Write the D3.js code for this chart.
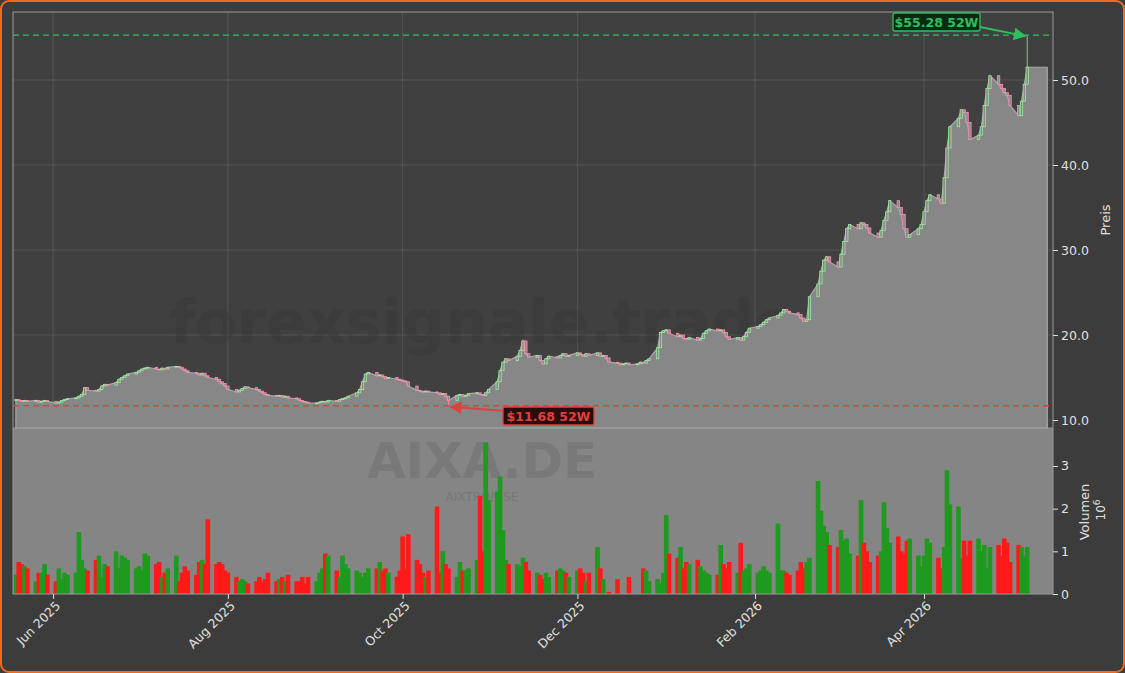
<!DOCTYPE html>
<html><head><meta charset="utf-8">
<script src="https://cdn.jsdelivr.net/npm/d3@7"></script>
<style>body{margin:0;background:#3c3c3c;}svg{display:block;font-family:"DejaVu Sans",sans-serif;}</style>
</head><body><svg id="c" width="1125" height="673"></svg>
<script>
// closing prices per month (trading days)
const closesMay25 = [12.4,12.3,12.2,12.3,12.2,12.3,12.1,12.2,12.3,12.2];
const closesJun25 = [12.0,12.1,12.3,12.4,12.5,12.6,12.8,13.0,13.8,13.5,13.4,13.6,14.0,14.2,14.1,14.4,14.8,15.0,15.2,15.4,15.6];
const closesJul25 = [15.8,16.0,16.1,16.2,16.0,15.9,16.1,16.0,16.2,16.3,16.2,16.0,15.8,15.6,15.5,15.3,15.5,15.2,15.0,14.8,14.5,14.3,14.0];
const closesAug25 = [13.6,13.3,13.5,13.7,13.9,13.8,13.6,13.4,13.2,13.0,12.9,12.8,12.9,12.7,12.8,12.6,12.5,12.3,12.2,12.1,12.0];
const closesSep25 = [12.0,12.1,12.2,12.1,12.3,12.2,12.4,12.5,12.6,12.8,13.2,13.6,14.5,15.4,15.6,15.2,15.3,15.1,14.9,15.0,14.8,14.7];
const closesOct25 = [14.6,14.5,14.0,13.5,13.4,13.3,13.4,13.3,13.2,13.0,13.1,12.8,12.3,12.9,13.0,12.8,12.9,13.1,13.2,13.0,12.9,13.2,13.6];
const closesNov25 = [14.5,15.8,16.8,17.2,17.0,17.5,18.2,19.3,17.8,17.4,17.6,17.0,16.6,17.2,17.5,17.3,17.6,17.8,17.5,17.6];
const closesDec25 = [17.9,17.7,17.5,17.8,17.6,17.9,17.5,17.6,17.3,16.8,16.7,16.5,16.6,16.7,16.5,16.6,16.8,16.7,17.0,17.2,18.5,20.3,20.5];
const closesJan26 = [20.6,20.2,19.8,20.0,19.6,19.5,19.7,19.4,19.6,20.2,20.5,20.7,20.5,20.6,20.3,19.8,19.5,19.7,19.4,19.8,20.3,20.8];
const closesFeb26 = [21.0,21.2,21.5,21.8,22.0,22.3,22.6,23.0,22.8,22.6,22.4,22.0,21.6,21.8,24.5,26.0,27.5,28.8,29.2,28.6];
const closesMar26 = [28.0,29.5,31.0,32.5,33.0,32.5,33.2,33.0,32.6,32.0,31.5,32.3,33.5,34.5,35.8,35.0,34.2,32.5,31.5,31.8,32.5,33.0];
const closesApr26 = [34.5,35.8,36.5,36.0,35.5,38.5,42.0,44.5,45.5,46.5,46.2,45.0,43.0,43.5,44.5,47.0,49.0,50.5,49.5,49.0,48.5,48.2];
const closesMay26 = [47.0,45.8,47.5,49.5,51.5];

// volume in millions
const volMay25 = [.45,.75,.7,.65,.6,.3,.5,.5,.7,.45];
const volJun25 = [.3,.6,.35,.5,.45,.5,1.45,.8,.6,.55,.8,.9,.4,.7,.65,1.0,.6,.9,.85,.8,.6];
const volJul25 = [.65,.55,.95,.9,.7,.75,.4,.5,.6,.9,.3,.5,.65,.55,.45,.75,.8,.7,1.75,.7,.75,.7,.55];
const volAug25 = [.5,.4,.3,.35,.3,.25,.3,.4,.3,.35,.5,.3,.35,.4,.3,.45,.3,.3,.4,.25,.4];
const volSep25 = [.3,.5,.6,.95,.9,.55,.4,.9,.7,.6,.55,.5,.4,.5,.6,.6,.75,.55,.6,.5,.4,.55];
const volOct25 = [1.35,.6,1.4,.8,.7,.5,.4,.55,2.05,.5,1.0,.7,.6,.4,.75,.55,.55,.6,.8,2.3,1.0,3.55,2.2];
const volNov25 = [2.4,2.75,1.5,.8,.7,.7,.65,.85,.75,.55,.5,.45,.35,.5,.4,.55,.6,.55,.5,.4];
const volDec25 = [.55,.6,.5,.3,.5,1.1,.6,.35,0,.05,.35,0,0,0,.4,0,0,.6,.55,.3,.35,.25,.5];
const volJan26 = [1.85,.95,.85,1.1,.6,.75,.7,.8,.65,.55,.5,.45,.45,1.15,.7,.6,.75,.5,1.2,.55,.6,.7];
const volFeb26 = [.5,.55,.65,.55,.5,1.65,.55,.55,.5,.45,.55,.75,.6,.75,.85,2.65,1.95,1.6,1.45,1.15];
const volMar26 = [1.1,1.5,1.25,1.3,.95,.9,2.2,1.2,1.0,.75,.9,1.0,2.15,1.55,1.2,1.35,1.0,.95,1.25,1.3,.9,.65];
const volApr26 = [.9,1.3,1.2,.85,.6,1.1,2.9,2.1,2.05,.85,1.25,.9,1.25,1.3,1.0,1.15,.6,1.1,1.15,.9,1.3,1.2];
const volMay26 = [.75,1.15,1.1,.9,1.1];

const priceTicks = [10, 20, 30, 40, 50];
const volTicks = [0, 1, 2, 3];
const low52 = { value: 11.68, date: "2025-10-17" };
const high52 = { value: 55.28, date: "2026-05-07" };
const dateTicks = ["2025-06-01","2025-08-01","2025-10-01","2025-12-01","2026-02-01","2026-04-01"];

const closes = [].concat(closesMay25,closesJun25,closesJul25,closesAug25,closesSep25,closesOct25,closesNov25,closesDec25,closesJan26,closesFeb26,closesMar26,closesApr26,closesMay26);
const vols = [].concat(volMay25,volJun25,volJul25,volAug25,volSep25,volOct25,volNov25,volDec25,volJan26,volFeb26,volMar26,volApr26,volMay26);

const parse = d3.timeParse("%Y-%m-%d");
const days = d3.timeDay.range(parse("2025-05-19"), parse("2026-05-08")).filter(d => d.getDay() % 6 !== 0);
const n = Math.min(closes.length, days.length);
const data = d3.range(n).map(i => ({
  date: days[i], close: closes[i], open: i ? closes[i-1] : closes[i], vol: vols[i] || 0
}));
data.forEach(d => { d.high = Math.max(d.open, d.close); d.low = Math.min(d.open, d.close); });
const hi = data.find(d => +d.date === +parse(high52.date)); if (hi) hi.high = high52.value;
const lo = data.find(d => +d.date === +parse(low52.date)); if (lo) lo.low = low52.value;

const svg = d3.select("#c");
svg.append("rect").attr("x",1).attr("y",1).attr("width",1123).attr("height",671).attr("rx",8)
  .attr("fill","#3c3c3c").attr("stroke","#f26a1b").attr("stroke-width",2);

const L = 13, R = 1053, PT = 12, PB = 428, VB = 594;
const x = d3.scaleTime().domain([parse("2025-05-18"), parse("2026-05-16")]).range([L, R]);
const y = d3.scaleLinear().domain([9.06, 58]).range([PB, PT]);
const yv = d3.scaleLinear().domain([0, 3.89]).range([VB, PB]);

svg.append("rect").attr("x",L).attr("y",PT).attr("width",R-L).attr("height",PB-PT).attr("fill","#404040");
svg.append("rect").attr("x",L).attr("y",PB).attr("width",R-L).attr("height",VB-PB).attr("fill","#858585");

// grid
const g = svg.append("g").attr("stroke","#5a5a5a").attr("stroke-width",0.8);
dateTicks.forEach(t => g.append("line").attr("x1",x(parse(t))).attr("x2",x(parse(t))).attr("y1",PT).attr("y2",PB));
priceTicks.forEach(t => g.append("line").attr("x1",L).attr("x2",R).attr("y1",y(t)).attr("y2",y(t)));

// watermarks
svg.append("text").attr("x",482).attr("y",343).attr("text-anchor","middle").attr("font-size",60).attr("font-weight","bold")
  .attr("fill","#333").attr("opacity",0.3).text("forexsignale.trade");

// area under close
const last = data[n-1];
const areaData = data.concat([{ date: d3.timeDay.offset(last.date, 7), close: last.close }]);
svg.append("path").datum(areaData)
  .attr("d", d3.area().x(d => x(d.date)).y0(PB).y1(d => y(d.close)))
  .attr("fill","#878787").attr("stroke","#a8a8a8").attr("stroke-width",1.2);

// candles
const cw = 2.4;
const cg = svg.append("g");
data.forEach(d => {
  const up = d.close >= d.open, col = up ? "#9be89b" : "#ff8fb0", cx = x(d.date);
  cg.append("line").attr("x1",cx).attr("x2",cx).attr("y1",y(d.high)).attr("y2",y(d.low)).attr("stroke",col).attr("stroke-width",0.8);
  const top = y(Math.max(d.open,d.close)), h = Math.max(0.8, Math.abs(y(d.open)-y(d.close)));
  cg.append("rect").attr("x",cx-cw/2).attr("y",top).attr("width",cw).attr("height",h)
    .attr("fill","#8a8a8a").attr("stroke",col).attr("stroke-width",0.8);
});

// 52W lines
svg.append("line").attr("x1",L).attr("x2",R).attr("y1",y(low52.value)).attr("y2",y(low52.value))
  .attr("stroke","#e04040").attr("stroke-width",1.3).attr("stroke-dasharray","6,4");
svg.append("line").attr("x1",L).attr("x2",R).attr("y1",y(high52.value)).attr("y2",y(high52.value))
  .attr("stroke","#2fbf5f").attr("stroke-width",1.3).attr("stroke-dasharray","6,4");

// volume
svg.append("text").attr("x",482).attr("y",478).attr("text-anchor","middle").attr("font-size",50).attr("font-weight","bold")
  .attr("fill","#707070").attr("opacity",0.55).text("AIXA.DE");
svg.append("text").attr("x",482).attr("y",501).attr("text-anchor","middle").attr("font-size",12)
  .attr("fill","#707070").attr("opacity",0.6).text("AIXTRON SE");
svg.append("g").selectAll("rect").data(data).join("rect")
  .attr("x", d => x(d.date) - 2.3).attr("width", 4.6)
  .attr("y", d => yv(d.vol)).attr("height", d => VB - yv(d.vol))
  .attr("fill", d => d.close >= d.open ? "#1e9a1e" : "#ff1a1a");

// frames
svg.append("rect").attr("x",L).attr("y",PT).attr("width",R-L).attr("height",VB-PT).attr("fill","none").attr("stroke","#9a9a9a");
svg.append("line").attr("x1",L).attr("x2",R).attr("y1",PB).attr("y2",PB).attr("stroke","#9a9a9a");

// axes
const tc = "#e0e0e0";
const ay = svg.append("g").attr("transform",`translate(${R},0)`).call(d3.axisRight(y).tickValues(priceTicks).tickFormat(d3.format(".1f")).tickSize(5));
const av = svg.append("g").attr("transform",`translate(${R},0)`).call(d3.axisRight(yv).tickValues(volTicks).tickFormat(d3.format("d")).tickSize(5));
const ax = svg.append("g").attr("transform",`translate(0,${VB})`).call(d3.axisBottom(x).tickValues(dateTicks.map(parse)).tickFormat(d3.timeFormat("%b %Y")).tickSize(5));
[ay, av, ax].forEach(a => {
  a.select(".domain").remove();
  a.selectAll("line").attr("stroke",tc);
  a.selectAll("text").attr("fill",tc).attr("font-size",12.5).attr("font-family","DejaVu Sans");
});
ax.selectAll("text").attr("text-anchor","end").attr("dx","-0.3em").attr("dy","0.5em").attr("transform","rotate(-45)");

svg.append("text").attr("transform","translate(1110,220) rotate(-90)").attr("text-anchor","middle").attr("fill",tc).attr("font-size",13).text("Preis");
svg.append("text").attr("transform","translate(1089,512) rotate(-90)").attr("text-anchor","middle").attr("fill",tc).attr("font-size",13).text("Volumen");
svg.append("text").attr("transform","translate(1105,510) rotate(-90)").attr("text-anchor","middle").attr("fill",tc).attr("font-size",12)
  .html('10<tspan dy="-5" font-size="9">6</tspan>');

// annotations
const defs = svg.append("defs");
[["ar","#e04040"],["ag","#2fbf5f"]].forEach(([id,c]) => defs.append("marker").attr("id",id).attr("viewBox","0 0 10 10")
  .attr("refX",9).attr("refY",5).attr("markerWidth",7).attr("markerHeight",7).attr("orient","auto")
  .append("path").attr("d","M0,0L10,5L0,10z").attr("fill",c));
function note(bx, by, w, txt, col, bg, tx, ty, mk, sx, sy) {
  svg.append("line").attr("x1",sx).attr("y1",sy).attr("x2",tx).attr("y2",ty).attr("stroke",col).attr("stroke-width",1.8).attr("marker-end",`url(#${mk})`);
  svg.append("rect").attr("x",bx).attr("y",by).attr("width",w).attr("height",18).attr("rx",2).attr("fill",bg).attr("stroke",col).attr("stroke-width",1.3);
  svg.append("text").attr("x",bx+w/2).attr("y",by+13.5).attr("text-anchor","middle").attr("font-size",12.5).attr("font-weight","bold").attr("fill",col).text(txt);
}
note(503, 407, 91, `$${low52.value.toFixed(2)} 52W`, "#e04040", "#2a0c0c", x(parse(low52.date))+2, y(low52.value)+1, "ar", 505, 411);
note(893, 13, 87, `$${high52.value.toFixed(2)} 52W`, "#2fbf5f", "#062a12", x(parse(high52.date))-2, y(high52.value)+1, "ag", 980, 27);
</script></body></html>
